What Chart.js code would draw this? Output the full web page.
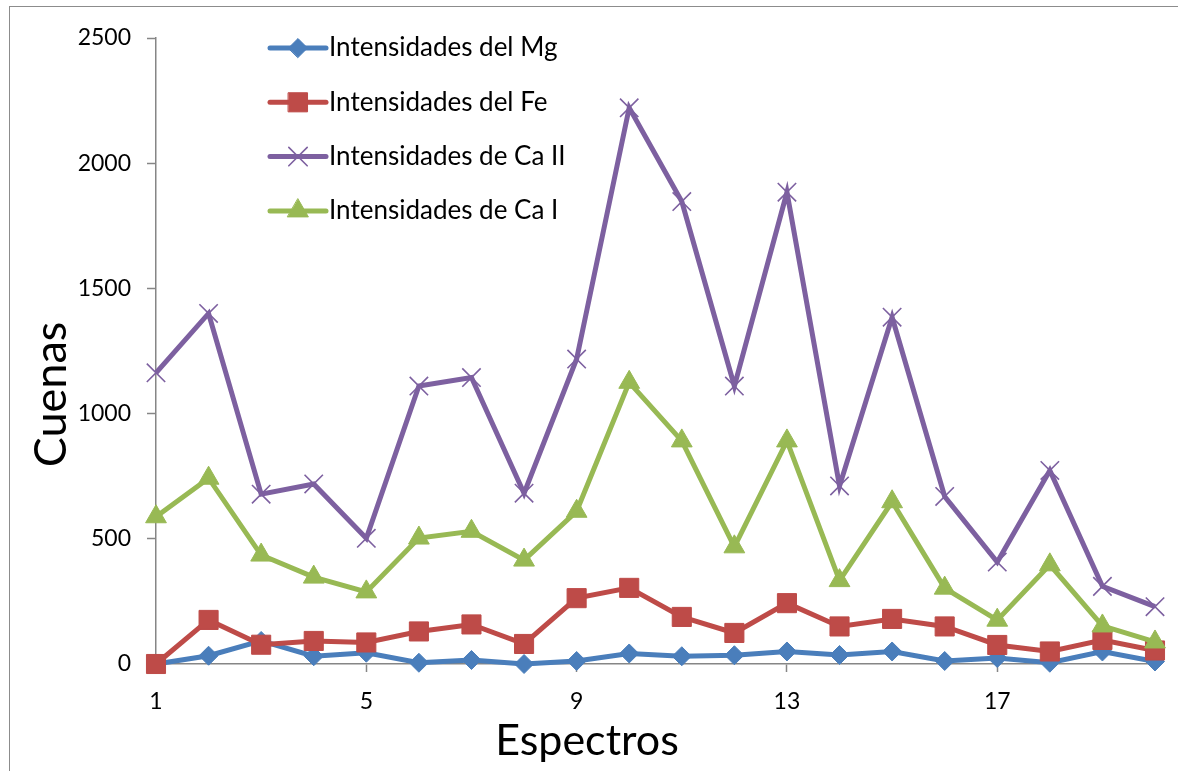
<!DOCTYPE html>
<html>
<head>
<meta charset="utf-8">
<title>Intensidades por espectro</title>
<script src="https://cdn.jsdelivr.net/npm/chart.js@4/dist/chart.umd.min.js"></script>
<style>
  html, body { margin: 0; padding: 0; background: #ffffff; }
  #wrap { position: relative; width: 1178px; height: 771px; }
  #frame { position: absolute; left: 9px; top: 6px; right: -4px; bottom: -4px; border-left: 1.5px solid #8c8c8c; border-top: 1.5px solid #8c8c8c; }
  canvas { position: absolute; left: 0; top: 0; }
</style>
</head>
<body>
<div id="wrap">
  <div id="frame"></div>
  <canvas id="c" width="1178" height="771"></canvas>
</div>
<script>
// Espectros 1..20
const espectros = ['1','2','3','4','5','6','7','8','9','10','11','12','13','14','15','16','17','18','19','20'];

const intensidadMg  = [0, 33, 92, 31, 45, 5, 16, 0, 12, 42, 31, 35, 50, 36, 50, 12, 24, 5, 50, 10];
const intensidadFe  = [0, 176, 77, 92, 86, 130, 158, 80, 263, 304, 188, 124, 243, 150, 180, 150, 76, 50, 96, 54];
const intensidadCa2 = [1163, 1400, 678, 719, 502, 1110, 1144, 682, 1218, 2221, 1847, 1110, 1884, 711, 1385, 669, 407, 773, 310, 229];
const intensidadCa1 = [588, 742, 435, 347, 288, 503, 530, 415, 610, 1125, 891, 468, 891, 333, 648, 303, 175, 396, 152, 88];

const nombresSeries = ['Intensidades del Mg', 'Intensidades del Fe', 'Intensidades de Ca II', 'Intensidades de Ca I'];
const ticksY = [0, 500, 1000, 1500, 2000, 2500];
const tituloX = 'Espectros';
const tituloY = 'Cuenas';

const FONT = 'Lato, "Open Sans", sans-serif';
const AXIS_GRAY = '#868686';

function serie(label, data, color, style, radius, order, cross) {
  return {
    label, data,
    borderColor: color,
    backgroundColor: color,
    borderWidth: 5,
    pointStyle: style,
    pointRadius: radius,
    pointHoverRadius: radius,
    pointBackgroundColor: color,
    pointBorderColor: color,
    pointBorderWidth: cross ? 1.6 : 1,
    tension: 0,
    clip: false,
    order
  };
}

const datasets = [
  serie(nombresSeries[0], intensidadMg,  '#4a7ebb', 'rectRot', 9.5, 4, false),
  serie(nombresSeries[1], intensidadFe,  '#be4b48', 'rect', 13.5, 3, false),
  serie(nombresSeries[2], intensidadCa2, '#7d60a0', 'crossRot', 13, 2, true),
  serie(nombresSeries[3], intensidadCa1, '#98b954', 'triangle', 12, 1, false)
];

// Vertical legend drawn inside the plot area, top-left
const leyendaInterior = {
  id: 'leyendaInterior',
  afterDraw(chart) {
    const ctx = chart.ctx;
    const x0 = chart.chartArea.left + 114;
    const lineLen = 56;
    const y0 = chart.chartArea.top + 10;
    const step = 54.3;
    ctx.save();
    chart.data.datasets.forEach((ds, i) => {
      const y = y0 + i * step;
      ctx.strokeStyle = ds.borderColor;
      ctx.lineWidth = ds.borderWidth;
      ctx.lineCap = 'round';
      ctx.beginPath();
      ctx.moveTo(x0, y);
      ctx.lineTo(x0 + lineLen, y);
      ctx.stroke();
      ctx.fillStyle = ds.pointBackgroundColor;
      ctx.strokeStyle = ds.pointBorderColor;
      ctx.lineWidth = ds.pointBorderWidth;
      Chart.helpers.drawPoint(ctx, {
        pointStyle: ds.pointStyle,
        radius: ds.pointRadius,
        borderWidth: ds.pointBorderWidth,
        rotation: 0
      }, x0 + lineLen / 2, y);
      ctx.fillStyle = '#000000';
      ctx.font = '26px ' + FONT;
      ctx.textBaseline = 'middle';
      ctx.textAlign = 'left';
      ctx.fillText(ds.label, x0 + lineLen + 3, y);
    });
    ctx.restore();
  }
};

// Axis titles centred on the whole chart box, as in spreadsheet charts
const titulosEjes = {
  id: 'titulosEjes',
  afterDraw(chart) {
    const ctx = chart.ctx;
    ctx.save();
    ctx.fillStyle = '#000000';
    ctx.textAlign = 'center';
    ctx.textBaseline = 'middle';
    ctx.font = '43px ' + FONT;
    ctx.fillText(tituloX, chart.width / 2 - 2, chart.height - 30);
    ctx.translate(51, chart.height / 2 + 9);
    ctx.rotate(-Math.PI / 2);
    ctx.font = '45px ' + FONT;
    ctx.fillText(tituloY, 0, 0);
    ctx.restore();
  }
};

new Chart(document.getElementById('c'), {
  type: 'line',
  data: { labels: espectros, datasets },
  options: {
    responsive: false,
    animation: false,
    events: [],
    layout: { padding: { left: 0, right: 23, top: 38, bottom: 0 } },
    plugins: { legend: { display: false }, tooltip: { enabled: false } },
    scales: {
      x: {
        type: 'category',
        offset: false,
        afterFit(scale) { scale.height = 107; },
        border: { display: true, color: AXIS_GRAY, width: 1.5 },
        grid: {
          drawOnChartArea: false,
          drawTicks: true,
          tickLength: 8,
          tickWidth: 1.5,
          color: (c) => (c.index % 4 === 0 && c.index > 0) ? AXIS_GRAY : 'rgba(0,0,0,0)'
        },
        ticks: {
          autoSkip: false,
          maxRotation: 0,
          padding: 16,
          color: '#000000',
          font: { family: FONT, size: 23 },
          callback: (v, i) => (i % 4 === 0 ? espectros[i] : '')
        },
        title: { display: false }
      },
      y: {
        min: ticksY[0],
        max: ticksY[ticksY.length - 1],
        afterFit(scale) { scale.width = 156; },
        afterBuildTicks(scale) { scale.ticks = ticksY.map(v => ({ value: v })); },
        border: { display: true, color: AXIS_GRAY, width: 1.5 },
        grid: {
          drawOnChartArea: false,
          drawTicks: true,
          tickLength: 9,
          tickWidth: 1.5,
          color: AXIS_GRAY
        },
        ticks: {
          padding: 16,
          color: '#000000',
          font: { family: FONT, size: 23 },
          callback: (v) => String(v)
        },
        title: { display: false }
      }
    }
  },
  plugins: [leyendaInterior, titulosEjes]
});
</script>
</body>
</html>
